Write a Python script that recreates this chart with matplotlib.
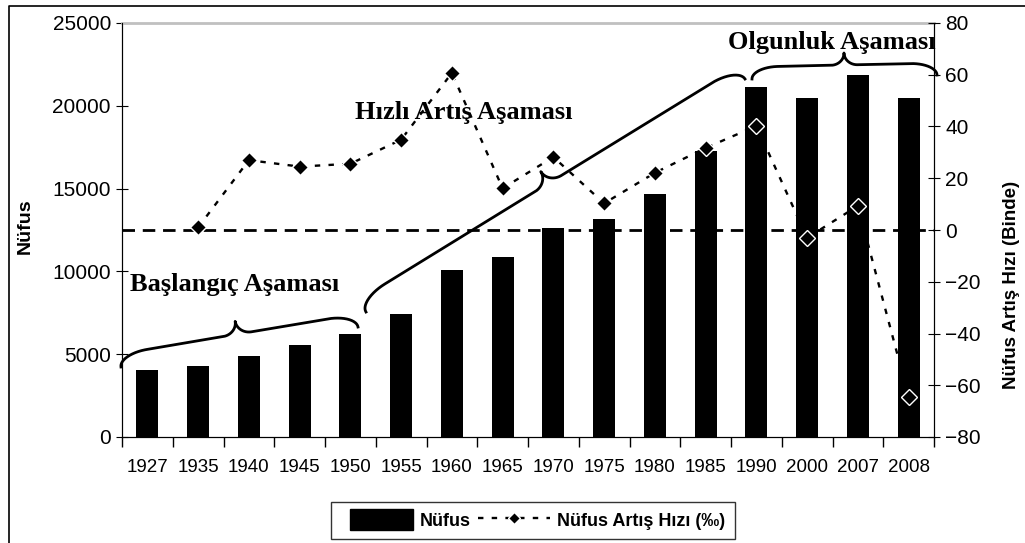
import numpy as np
import matplotlib
matplotlib.use("Agg")
import matplotlib.pyplot as plt
from matplotlib.lines import Line2D
from matplotlib.patches import Patch, Rectangle
from matplotlib.legend_handler import HandlerPatch

plt.rcParams['font.family'] = ['Liberation Sans', 'DejaVu Sans']

# Data
years = ['1927', '1935', '1940', '1945', '1950', '1955', '1960', '1965',
         '1970', '1975', '1980', '1985', '1990', '2000', '2007', '2008']
nufus = [4050, 4300, 4890, 5540, 6200, 7450, 10100, 10870,
         12600, 13150, 14670, 17270, 21150, 20490, 21840, 20490]
# growth rate (per thousand); no value for 1927
artis_hizi = [np.nan, 1, 27, 24.5, 25.6, 34.9, 60.7, 16.1,
              28.2, 10.3, 22.1, 31.7, 40.2, -3, 9.3, -64.4]

W, H = 1025, 543
fig = plt.figure(figsize=(W / 100, H / 100), dpi=100)
ax = fig.add_axes([122 / W, 1 - 437 / H, (934 - 122) / W, (437 - 23) / H])
x = np.arange(len(years))

ax.bar(x, nufus, width=0.43, color='black', zorder=2)
ax.set_xlim(-0.5, len(years) - 0.5)
ax.set_ylim(0, 25000)
ax.set_yticks(range(0, 25001, 5000))
ax.set_xticks(x)
ax.set_xticklabels(years, fontsize=13.5)
ax.set_xticks(np.arange(-0.5, len(years), 1), minor=True)
ax.tick_params(axis='x', which='major', length=0, pad=16)
ax.tick_params(axis='x', which='minor', length=7, direction='out', width=1)
ax.tick_params(axis='y', labelsize=15, direction='inout', length=9)
ax.spines['top'].set_color('#c0c0c0')
ax.spines['top'].set_linewidth(2)

ax2 = ax.twinx()
ax2.set_ylim(-80, 80)
ax2.set_yticks(range(-80, 81, 20))
ax2.tick_params(axis='y', labelsize=15, direction='inout', length=9)
ax2.spines['top'].set_visible(False)
ax2.axhline(0, color='black', lw=2, dashes=(4.5, 2.8), zorder=1)
ax2.plot(x, artis_hizi, color='black', lw=1.7, dashes=(2.3, 3.5),
         marker='D', ms=8, mfc='black', mec='white', mew=1, zorder=3)

fig.text(25 / W, 1 - 226 / H, 'Nüfus', rotation=90, fontsize=14, fontweight='bold',
         ha='center', va='center')
fig.text(1011 / W, 1 - 285 / H, 'Nüfus Artış Hızı (Binde)', rotation=90, fontsize=13.5,
         fontweight='bold', ha='center', va='center')


def brace(p0, p1, h):
    # curly brace between two pixel points: elliptic end curls, straight parts, cusp
    p0 = np.array(p0, float)
    p1 = np.array(p1, float)
    L = np.hypot(*(p1 - p0))
    d = (p1 - p0) / L
    n = np.array([d[1], -d[0]])
    r = h / 2
    ra_end, ra_mid = 2.2 * r, 1.1 * r
    th = np.linspace(0, np.pi / 2, 40)
    u1 = ra_end - ra_end * np.cos(th)
    v1 = r * np.sin(th)
    u3 = L / 2 - ra_mid + ra_mid * np.sin(th)
    v3 = 2 * r - r * np.cos(th)
    u = np.concatenate([u1, u3])
    v = np.concatenate([v1, v3])
    u = np.concatenate([u, L - u[::-1]])
    v = np.concatenate([v, v[::-1]])
    pts = p0[None, :] + u[:, None] * d[None, :] + v[:, None] * n[None, :]
    fig.add_artist(Line2D(pts[:, 0] / W, 1 - pts[:, 1] / H, color='black', lw=2,
                          solid_joinstyle='round', transform=fig.transFigure))


brace((121, 367), (358, 327), 26)
brace((366, 312), (745, 79), 28)
brace((752, 79), (937, 75), 24)

serif = ['Liberation Serif', 'DejaVu Serif']
fig.text(130 / W, 1 - 285 / H, 'Başlangıç Aşaması', family=serif, fontsize=19,
         fontweight='bold', va='center', ha='left')
fig.text(355 / W, 1 - 112 / H, 'Hızlı Artış Aşaması', family=serif, fontsize=19,
         fontweight='bold', va='center', ha='left')
fig.text(728 / W, 1 - 43 / H, 'Olgunluk Aşaması', family=serif, fontsize=19,
         fontweight='bold', va='center', ha='left')


def bar_handle(legend, orig_handle, xdescent, ydescent, width, height, fontsize):
    return Rectangle((-xdescent + 0.14 * width, -ydescent - 0.1 * height),
                     0.86 * width, 1.2 * height)


handles = [Patch(facecolor='black', edgecolor='black', label='Nüfus'),
           Line2D([], [], color='black', lw=1.7, dashes=(2.3, 3.5), marker='D', ms=6,
                  mfc='black', mec='white', label='Nüfus Artış Hızı (‰)')]
fig.legend(handles=handles, loc='upper center', bbox_to_anchor=(533 / W, 1 - 502 / H),
           ncol=2, frameon=True, fancybox=False, edgecolor='black', borderaxespad=0,
           prop={'weight': 'bold', 'size': 13}, handlelength=4.0, handleheight=1.1,
           columnspacing=0.4, handletextpad=0.4, borderpad=0.5,
           handler_map={Patch: HandlerPatch(patch_func=bar_handle)})

# outer frame (left and top edges visible)
fig.add_artist(Line2D([9 / W, 9 / W, 1], [0, 1 - 6 / H, 1 - 6 / H], color='black',
                      lw=1.2, transform=fig.transFigure))

fig.savefig('out.png', dpi=100)
